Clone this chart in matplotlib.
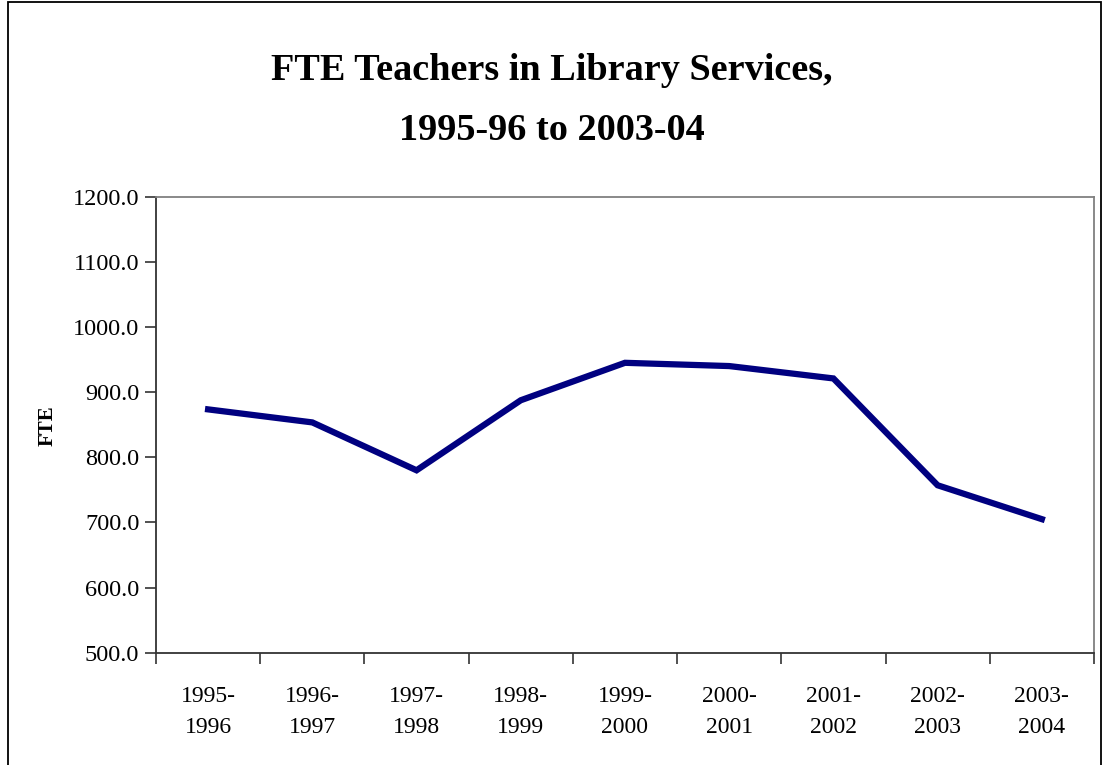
import matplotlib
matplotlib.use('Agg')
import matplotlib.pyplot as plt
from matplotlib.patches import Rectangle
import numpy as np

# school years and FTE values
years = ['1995-\n1996', '1996-\n1997', '1997-\n1998', '1998-\n1999', '1999-\n2000',
         '2000-\n2001', '2001-\n2002', '2002-\n2003', '2003-\n2004']
fte = [873.5, 853.5, 780.0, 887.5, 945.0, 940.0, 921.0, 757.0, 705.0]
y_ticks = [500, 600, 700, 800, 900, 1000, 1100, 1200]

plt.rcParams['font.family'] = ['Liberation Serif', 'DejaVu Serif']

fig = plt.figure(figsize=(11.04, 7.65), dpi=100)
ax = fig.add_axes([0.1413, 0.1468, 0.9909 - 0.1413, 0.7429 - 0.1468])

x = np.arange(len(years))
ax.plot(x, fte, color='#000080', linewidth=4.5, solid_joinstyle='miter')

ax.set_xlim(-0.5, len(years) - 0.5)
ax.set_ylim(500, 1200)
ax.set_yticks(y_ticks)
ax.set_yticklabels(['%.1f' % v for v in y_ticks])

# ticks between categories, labels at the centres
ax.set_xticks(np.arange(-0.5, len(years), 1.0))
ax.set_xticklabels([])
ax.set_xticks(x, minor=True)
ax.set_xticklabels(years, minor=True, linespacing=1.6)
ax.tick_params(axis='x', which='major', length=8, width=1.2, color='#333333')
ax.tick_params(axis='x', which='minor', length=0, pad=24, labelsize=17)
ax.tick_params(axis='y', length=8, width=1.2, color='#333333', labelsize=17.5, pad=4)

for side in ['left', 'bottom']:
    ax.spines[side].set_color('#333333')
    ax.spines[side].set_linewidth(1.3)
for side in ['top', 'right']:
    ax.spines[side].set_color('#808080')
    ax.spines[side].set_linewidth(1.3)

fig.text(47.5 / 1104, 1 - 426 / 765, 'FTE', rotation=90, ha='center', va='center',
         fontsize=15, fontweight='bold')

fig.text(0.5, 1 - 70 / 765, 'FTE Teachers in Library Services,', ha='center', va='center',
         fontsize=27.5, fontweight='bold')
fig.text(0.5, 1 - 130 / 765, '1995-96 to 2003-04', ha='center', va='center',
         fontsize=27.5, fontweight='bold')

# outer chart frame
fig.patches.append(Rectangle((8 / 1104, -0.05), (1101 - 8) / 1104, 1.05 - 2 / 765,
                             transform=fig.transFigure, fill=False, edgecolor='black',
                             linewidth=1.3, clip_on=False))

fig.savefig('out.png', dpi=100)
